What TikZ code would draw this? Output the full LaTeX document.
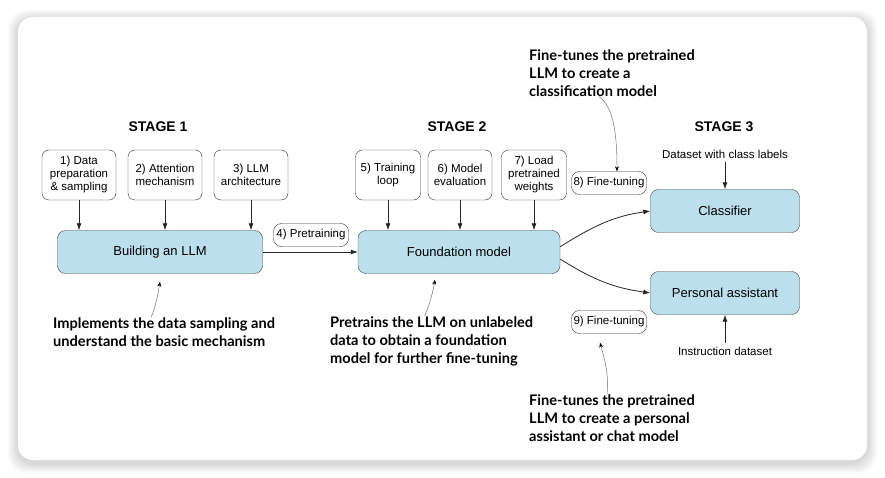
\documentclass[tikz,border=0pt]{standalone}
\usepackage{fontspec}
\setmainfont{Liberation Sans}
\newfontfamily\notefont{Lato}
\usetikzlibrary{positioning, arrows.meta}
\definecolor{llmblue}{HTML}{BCDFEE}

\begin{document}
\begin{tikzpicture}
[x=1pt, y=-1pt, on grid, >={Latex[length=7pt,width=5pt]},
 stepbox/.style={draw=black!80, fill=white, rounded corners=7pt, minimum width=74pt,
   minimum height=50pt, align=center, inner sep=2pt, font=\fontsize{11.5}{13}\selectfont},
 modelbox/.style={draw=black!75, fill=llmblue, rounded corners=8pt, minimum height=43pt,
   font=\fontsize{13}{15}\selectfont},
 tag/.style={draw=black!80, fill=white, rounded corners=8pt, minimum width=75pt,
   minimum height=23pt, inner sep=1pt, font=\fontsize{11.5}{13}\selectfont},
 stage/.style={font=\fontsize{14}{16}\selectfont\bfseries},
 plain/.style={font=\fontsize{11.5}{13}\selectfont},
 note/.style={align=left, inner sep=0pt, anchor=west,
   font=\notefont\fontsize{14.6}{18}\selectfont\bfseries},
 feed/.style={->, line width=0.8pt, draw=black!85},
 hint/.style={-{Stealth[length=5pt,width=4pt,black]}, line width=0.5pt, draw=black!55}]

\useasboundingbox (0,0) rectangle (885,478);
\foreach \s in {1,...,10}
  \fill[black, opacity=0.015, rounded corners=18pt] (18-\s,17-\s+3) rectangle (867+\s,460+\s+3);
\fill[white, rounded corners=15pt] (18,17) rectangle (867,460);

\node[stage] (stage1) at (158,127) {STAGE 1};
\node[stage] (stage2) at (457,127) {STAGE 2};
\node[stage] (stage3) at (724,127) {STAGE 3};

\node[stepbox] (prep) at (79,175) {1) Data\\preparation\\\& sampling};
\node[stepbox, right=86pt of prep] (attn) {2) Attention\\mechanism};
\node[stepbox, right=86pt of attn] (arch) {3) LLM\\architecture};

\node[stepbox, minimum width=65pt] (train) at (388,175) {5) Training\\loop};
\node[stepbox, minimum width=64pt, right=72pt of train] (eval) {6) Model\\evaluation};
\node[stepbox, minimum width=65pt, right=74pt of eval] (load) {7) Load\\pretrained\\weights};

\node[modelbox, minimum width=205pt] (build) at (160,252) {Building an LLM};
\node[modelbox, minimum width=202pt, right=299pt of build] (found) {Foundation model};

\node[modelbox, minimum width=149pt] (classifier) at (725,211) {Classifier};
\node[modelbox, minimum width=149pt, below=82pt of classifier] (assistant) {Personal assistant};

\node[tag] (pretrain) at (311,235) {4) Pretraining};
\node[tag] (tune8) at (609,183) {8) Fine-tuning};
\node[tag] (tune9) at (609,322) {9) Fine-tuning};

\node[plain] (labels) at (725,154) {Dataset with class labels};
\node[plain] (instr) at (725,351) {Instruction dataset};

\node[note] (buildnote) at (53,332) {Implements the data sampling and\\understand the basic mechanism};
\node[note] (foundnote) at (330,341) {Pretrains the LLM on unlabeled\\data to obtain a foundation\\model for further fine-tuning};
\node[note] (clsnote) at (529,73) {Fine-tunes the pretrained\\LLM to create a\\classification model};
\node[note] (asstnote) at (529,418) {Fine-tunes the pretrained\\LLM to create a personal\\assistant or chat model};

\foreach \n in {prep, attn, arch}
  \draw[feed] (\n) -- (\n |- build.north);
\foreach \n in {train, eval, load}
  \draw[feed] (\n) -- (\n |- found.north);

\draw[feed] (build) -- (found);
\draw[feed] (found.3) .. controls +(35,-22) and +(-35,5) .. (classifier.west);
\draw[feed] (found.-4) .. controls +(35,22) and +(-35,-5) .. (assistant.west);
\draw[feed] (labels) -- (classifier);
\draw[feed] (instr) -- (assistant);

\draw[hint] ([xshift=-13pt]clsnote.south) .. controls +(15,10) and +(0,-35) .. ([xshift=8pt]tune8.north);
\draw[hint] ([xshift=-5pt]asstnote.north) .. controls +(2,-20) and +(5,18) .. ([xshift=-9pt,yshift=-9pt]tune9.south);
\draw[hint] ([xshift=-13pt]buildnote.north) .. controls +(5,-12) and +(-2,12) .. ([yshift=-8pt]build.south);
\draw[hint] ([xshift=-7pt]foundnote.north) .. controls +(5,-12) and +(-2,12) .. ([xshift=-24pt,yshift=-6pt]found.south);

\end{tikzpicture}
\end{document}
